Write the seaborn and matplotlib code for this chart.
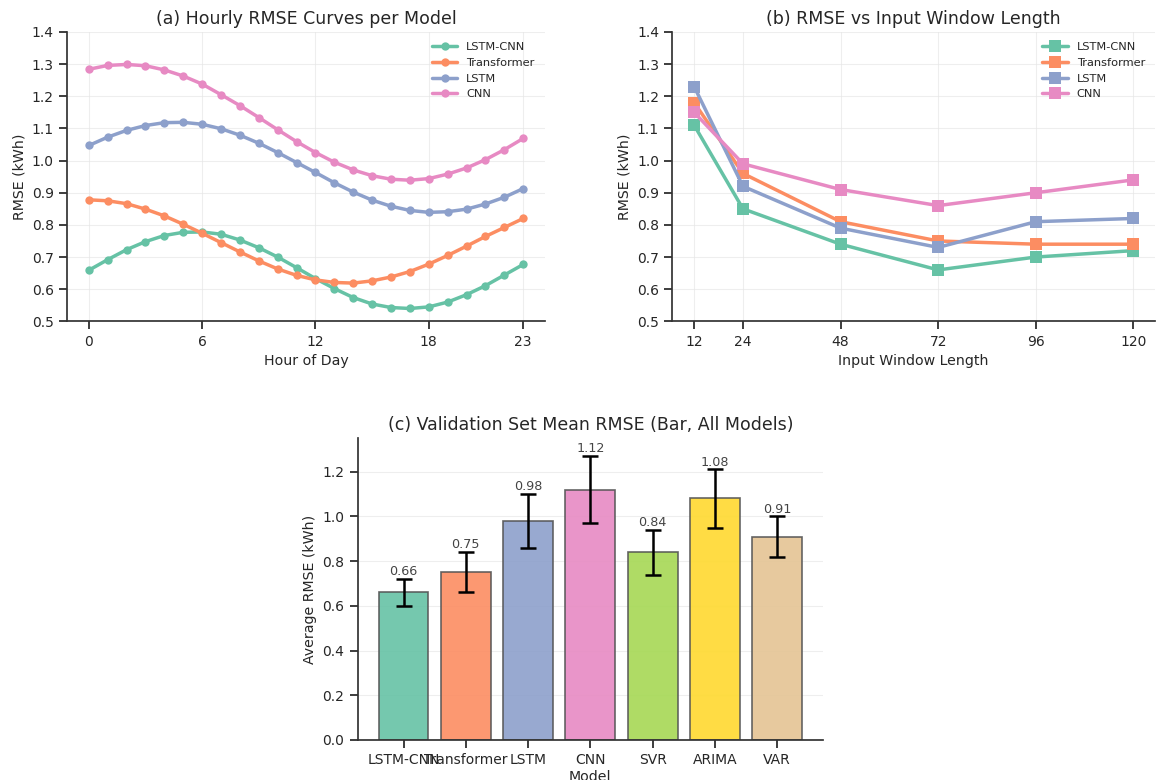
import numpy as np
import pandas as pd
import matplotlib
matplotlib.use("Agg")
import matplotlib.pyplot as plt
import seaborn as sns

# ---------------- data ----------------
hours = list(range(24))
models4 = ["LSTM-CNN", "Transformer", "LSTM", "CNN"]
hourly_lstm_cnn = [0.659, 0.692, 0.723, 0.748, 0.767, 0.777, 0.778, 0.771, 0.753, 0.729, 0.700, 0.667,
                   0.633, 0.602, 0.574, 0.554, 0.543, 0.540, 0.545, 0.560, 0.583, 0.611, 0.644, 0.677]
hourly_transformer = [0.878, 0.875, 0.866, 0.849, 0.828, 0.802, 0.774, 0.745, 0.716, 0.688, 0.663, 0.643,
                      0.629, 0.621, 0.619, 0.626, 0.638, 0.655, 0.678, 0.705, 0.734, 0.764, 0.792, 0.820]
hourly_lstm = [1.047, 1.073, 1.094, 1.109, 1.118, 1.119, 1.113, 1.099, 1.079, 1.054, 1.025, 0.994,
               0.963, 0.931, 0.902, 0.877, 0.858, 0.845, 0.839, 0.841, 0.849, 0.865, 0.886, 0.913]
hourly_cnn = [1.284, 1.296, 1.299, 1.295, 1.282, 1.263, 1.238, 1.205, 1.171, 1.134, 1.096, 1.059,
              1.025, 0.995, 0.971, 0.953, 0.942, 0.939, 0.944, 0.958, 0.977, 1.003, 1.034, 1.069]
hour_ticks = [0, 6, 12, 18, 23]

windows = [12, 24, 48, 72, 96, 120]
win_lstm_cnn = [1.11, 0.85, 0.74, 0.66, 0.70, 0.72]
win_transformer = [1.18, 0.96, 0.81, 0.75, 0.74, 0.74]
win_lstm = [1.23, 0.92, 0.79, 0.73, 0.81, 0.82]
win_cnn = [1.15, 0.99, 0.91, 0.86, 0.90, 0.94]

models7 = ["LSTM-CNN", "Transformer", "LSTM", "CNN", "SVR", "ARIMA", "VAR"]
mean_rmse = [0.66, 0.75, 0.98, 1.12, 0.84, 1.08, 0.91]
rmse_err = [0.06, 0.09, 0.12, 0.15, 0.10, 0.13, 0.09]

# ---------------- style ----------------
sns.set_theme(style="ticks")
plt.rcParams["font.family"] = ["DejaVu Sans"]
plt.rcParams["axes.edgecolor"] = "#333333"
pal7 = sns.color_palette("Set2", 7)
pal4 = pal7[:4]

fig = plt.figure(figsize=(11.57, 7.8), dpi=100)
ax_a = fig.add_axes([0.058, 0.588, 0.413, 0.371])
ax_b = fig.add_axes([0.581, 0.588, 0.4175, 0.371])
ax_c = fig.add_axes([0.309, 0.0513, 0.4025, 0.387])

TFS, LFS, KFS = 12.5, 10.2, 10

# ---------------- (a) ----------------
df_a = pd.DataFrame({
    "Hour": hours * 4,
    "RMSE": hourly_lstm_cnn + hourly_transformer + hourly_lstm + hourly_cnn,
    "Model": sum([[m] * 24 for m in models4], []),
})
sns.lineplot(data=df_a, x="Hour", y="RMSE", hue="Model", hue_order=models4, palette=pal4,
             marker="o", markersize=6, markeredgewidth=0, linewidth=2.5, ax=ax_a)
ax_a.set_ylim(0.5, 1.4)
ax_a.set_xticks(hour_ticks)
ax_a.set_title("(a) Hourly RMSE Curves per Model", fontsize=TFS)
ax_a.set_xlabel("Hour of Day", fontsize=LFS)
ax_a.set_ylabel("RMSE (kWh)", fontsize=LFS)

# ---------------- (b) ----------------
df_b = pd.DataFrame({
    "Window": windows * 4,
    "RMSE": win_lstm_cnn + win_transformer + win_lstm + win_cnn,
    "Model": sum([[m] * 6 for m in models4], []),
})
sns.lineplot(data=df_b, x="Window", y="RMSE", hue="Model", hue_order=models4, palette=pal4,
             marker="s", markersize=8, markeredgewidth=0, linewidth=2.5, ax=ax_b)
ax_b.set_ylim(0.5, 1.4)
ax_b.set_xticks(windows)
ax_b.set_title("(b) RMSE vs Input Window Length", fontsize=TFS)
ax_b.set_xlabel("Input Window Length", fontsize=LFS)
ax_b.set_ylabel("RMSE (kWh)", fontsize=LFS)

for ax in (ax_a, ax_b):
    ax.grid(True, color="#e4e4e4", alpha=0.6, linewidth=0.8)
    ax.legend(frameon=False, fontsize=8.2, loc="upper right", handlelength=2.2)
    ax.tick_params(labelsize=KFS)

# ---------------- (c) ----------------
df_c = pd.DataFrame({"Model": models7, "RMSE": mean_rmse})
sns.barplot(data=df_c, x="Model", y="RMSE", hue="Model", palette=pal7, legend=False,
            saturation=1, alpha=0.9, edgecolor="#555555", linewidth=1.2, width=0.8, ax=ax_c)
xpos = np.arange(len(models7))
ax_c.errorbar(xpos, mean_rmse, yerr=rmse_err, fmt="none", ecolor="black",
              elinewidth=1.8, capsize=6, capthick=1.8)
for i, (v, e) in enumerate(zip(mean_rmse, rmse_err)):
    ax_c.text(i, v + e + 0.003, f"{v:.2f}", ha="center", va="bottom", fontsize=9.2, color="#444444")
ax_c.set_xlim(-0.74, len(models7) - 0.26)
ax_c.set_ylim(0, 1.35)
ax_c.grid(True, axis="y", color="#e4e4e4", alpha=0.6, linewidth=0.8)
ax_c.set_axisbelow(True)
ax_c.set_title("(c) Validation Set Mean RMSE (Bar, All Models)", fontsize=TFS)
ax_c.set_xlabel("Model", fontsize=LFS, labelpad=2)
ax_c.set_ylabel("Average RMSE (kWh)", fontsize=LFS)
ax_c.tick_params(labelsize=KFS)

sns.despine(fig=fig)
fig.savefig("out.png", dpi=100)
